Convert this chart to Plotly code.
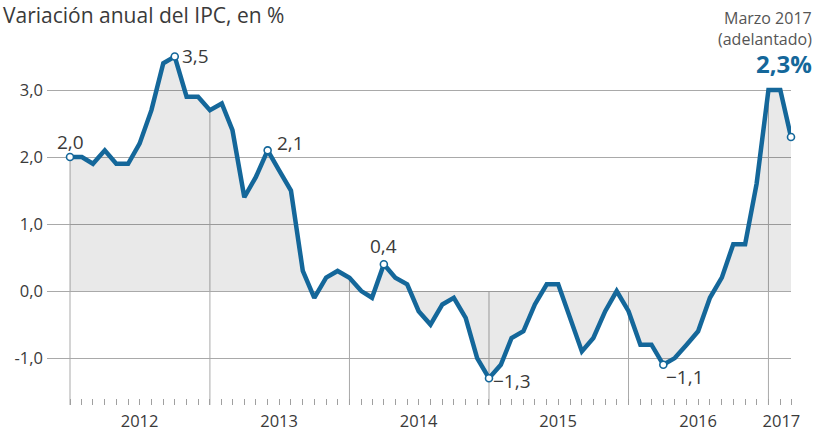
import pandas as pd
import plotly.graph_objects as go

# ---------------- data ----------------
months = pd.date_range("2012-01-01", "2017-03-01", freq="MS").strftime("%Y-%m-%d").tolist()
ipc = [
    2.0, 2.0, 1.9, 2.1, 1.9, 1.9, 2.2, 2.7, 3.4, 3.5, 2.9, 2.9,       # 2012
    2.7, 2.8, 2.4, 1.4, 1.7, 2.1, 1.8, 1.5, 0.3, -0.1, 0.2, 0.3,      # 2013
    0.2, 0.0, -0.1, 0.4, 0.2, 0.1, -0.3, -0.5, -0.2, -0.1, -0.4, -1.0,  # 2014
    -1.3, -1.1, -0.7, -0.6, -0.2, 0.1, 0.1, -0.4, -0.9, -0.7, -0.3, 0.0,  # 2015
    -0.3, -0.8, -0.8, -1.1, -1.0, -0.8, -0.6, -0.1, 0.2, 0.7, 0.7, 1.6,   # 2016
    3.0, 3.0, 2.3,                                                     # 2017
]
year_labels = ["2012", "2013", "2014", "2015", "2016", "2017"]
year_label_pos = ["2012-07-01", "2013-07-01", "2014-07-01", "2015-07-01", "2016-07-01", "2017-02-04"]
y_tickvals = [-1, 0, 1, 2, 3]
y_ticktext = ["-1,0", "0,0", "1,0", "2,0", "3,0"]
highlight_months = ["2012-01-01", "2012-10-01", "2013-06-01", "2014-04-01", "2015-01-01", "2016-04-01", "2017-03-01"]

# ---------------- styles ----------------
BLUE = "#14679a"
GRID = "#a9a9a9"
TXT = "#3a3a3a"
FONT = "Open Sans"


def fmt(v):
    s = f"{abs(v):.1f}".replace(".", ",")
    return ("\u2212" + s) if v < 0 else s


hl_vals = [ipc[months.index(m)] for m in highlight_months]

fig = go.Figure()
# shaded area between the curve and zero
fig.add_trace(go.Scatter(x=months, y=ipc, mode="lines", fill="tozeroy",
                         fillcolor="rgba(0,0,0,0.085)", line=dict(width=0),
                         hoverinfo="skip", showlegend=False))
# main line
fig.add_trace(go.Scatter(x=months, y=ipc, mode="lines", line=dict(color=BLUE, width=4.5),
                         cliponaxis=False, showlegend=False))
# highlighted points
fig.add_trace(go.Scatter(x=highlight_months, y=hl_vals, mode="markers", cliponaxis=False,
                         marker=dict(size=7, color="white", line=dict(color=BLUE, width=1.6)),
                         showlegend=False))

# vertical year lines (from bottom up to the top of the shaded area)
shapes = []
for m, v in zip(months, ipc):
    if m.endswith("-01-01"):
        shapes.append(dict(type="line", xref="x", yref="y", x0=m, x1=m,
                           y0=-1.70, y1=max(v, 0), layer="below",
                           line=dict(color=GRID, width=1)))

# point labels (style offsets only)
label_style = [
    dict(xanchor="center", yanchor="bottom", xshift=0, yshift=0),
    dict(xanchor="left", yanchor="middle", xshift=5, yshift=1),
    dict(xanchor="left", yanchor="middle", xshift=7, yshift=7),
    dict(xanchor="center", yanchor="bottom", xshift=0, yshift=3),
    dict(xanchor="left", yanchor="middle", xshift=2, yshift=-3),
    dict(xanchor="left", yanchor="middle", xshift=1, yshift=-12),
]
annotations = []
for m, v, st in zip(highlight_months[:-1], hl_vals[:-1], label_style):
    annotations.append(dict(x=m, y=v, xref="x", yref="y", text=fmt(v), showarrow=False,
                            font=dict(family=FONT, size=19, color=TXT), **st))


# titles / notes (paper coords: 0..1 = plot area 47..791 px horizontally, 405..20 px vertically)
def px(xp):
    return (xp - 47) / 744


def py(yp):
    return (405 - yp) / 385


annotations += [
    dict(x=px(1), y=py(15), xref="paper", yref="paper", xanchor="left", yanchor="middle",
         text="Variación anual del IPC, en %", showarrow=False,
         font=dict(family=FONT, size=21, color=TXT)),
    dict(x=px(814), y=py(18), xref="paper", yref="paper", xanchor="right", yanchor="middle",
         text="Marzo 2017", showarrow=False, font=dict(family=FONT, size=16, color="#555555")),
    dict(x=px(814), y=py(39), xref="paper", yref="paper", xanchor="right", yanchor="middle",
         text="(adelantado)", showarrow=False, font=dict(family=FONT, size=16, color="#555555")),
    dict(x=px(814), y=py(63), xref="paper", yref="paper", xanchor="right", yanchor="middle",
         text="<b>" + fmt(hl_vals[-1]) + "%</b>", showarrow=False,
         font=dict(family=FONT, size=24, color=BLUE)),
]

fig.update_layout(
    width=819, height=432,
    margin=dict(l=47, r=28, t=20, b=27, autoexpand=False),
    paper_bgcolor="white", plot_bgcolor="white",
    shapes=shapes, annotations=annotations,
    showlegend=False,
    xaxis=dict(type="date", range=["2011-11-01 20:00", "2017-03-01"], automargin=False,
               tickmode="array", tickvals=year_label_pos, ticktext=year_labels,
               ticks="", showgrid=False, zeroline=False, showline=False,
               tickfont=dict(family=FONT, size=16.5, color=TXT), ticklabelstandoff=4,
               minor=dict(tickmode="array", tickvals=months, ticks="inside", ticklen=6,
                          tickwidth=1, tickcolor="#a0a0a0", showgrid=False)),
    yaxis=dict(range=[-1.70, 4.045], tickmode="array", tickvals=y_tickvals, ticktext=y_ticktext,
               ticks="", showgrid=True, gridcolor=GRID, gridwidth=1, automargin=False,
               zeroline=True, zerolinecolor=GRID, zerolinewidth=1, showline=False,
               tickfont=dict(family=FONT, size=16.5, color=TXT), ticklabelstandoff=3),
)

fig.write_html("out.html")
